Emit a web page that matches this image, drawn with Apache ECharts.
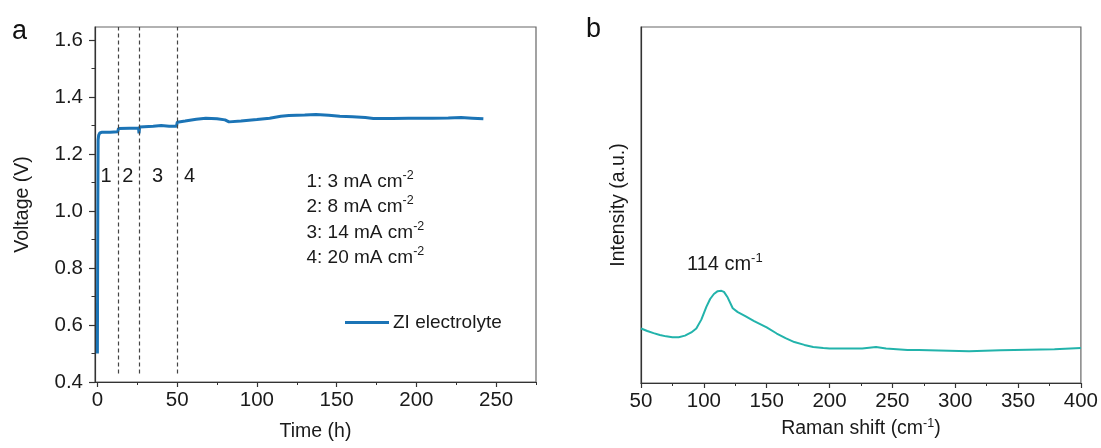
<!DOCTYPE html>
<html>
<head>
<meta charset="utf-8">
<script src="https://cdn.jsdelivr.net/npm/echarts@6/dist/echarts.min.js"></script>
<style>html,body{margin:0;padding:0;background:#fff}#c{width:1101px;height:448px}</style>
</head>
<body>
<div id="c"></div>
<script>
// ---------- Panel a data ----------
const timeH = [0,0.25,0.45,0.8,1.5,3,8,12.8,13.2,20,25.8,26.1,26.5,35,40,45,49.6,50.1,55,62,68,75,80,82.5,83.5,90,100,108,115,120,130,137,145,152,160,168,173,185,195,210,220,228,235,242];
const voltage = [0.50,1.00,1.25,1.266,1.274,1.277,1.277,1.278,1.290,1.291,1.291,1.273,1.295,1.298,1.300,1.298,1.298,1.312,1.316,1.322,1.326,1.324,1.320,1.313,1.317,1.316,1.321,1.326,1.333,1.335,1.337,1.339,1.336,1.333,1.331,1.328,1.325,1.325,1.326,1.326,1.327,1.328,1.326,1.324];
const stageBoundaries = [13.2, 26, 50];
const stageLabels = ['1', '2', '3', '4'];
const currentLabels = ['1: 3 mA cm', '2: 8 mA cm', '3: 14 mA cm', '4: 20 mA cm'];
const currentSup = '-2';
const seriesNameA = 'ZI electrolyte';
const xTicksA = [0, 50, 100, 150, 200, 250];
const xMinorA = [25, 75, 125, 175, 225, 275];
const yTicksA = [0.4, 0.6, 0.8, 1.0, 1.2, 1.4, 1.6];
const yMinorA = [0.5, 0.7, 0.9, 1.1, 1.3, 1.5];

// ---------- Panel b data ----------
const ramanShift = [50,55,60,65,70,75,80,85,90,94,98,102,105,108,111,114,116,119,123,127,133,140,150,158,165,172,180,187,195,200,210,226,227,237,238,245,246,262,263,264,271,272,311,312,336,337,379,380,400];
const intensity = [15.3,14.6,14.0,13.5,13.1,12.85,12.85,13.3,14.2,15.3,17.8,21.4,23.6,25.0,25.8,25.9,25.6,24.0,21.0,19.9,18.8,17.4,15.6,13.9,12.6,11.5,10.7,10.1,9.8,9.7,9.7,9.7,10.1,10.1,9.7,9.7,9.3,9.3,8.9,9.3,9.3,8.9,8.9,9.2,9.2,9.5,9.5,9.8,9.8];
const xTicksB = [50, 100, 150, 200, 250, 300, 350, 400];
const xMinorB = [75, 125, 175, 225, 275, 325, 375];
const peakLabel = '114 cm';
const peakSup = '-1';

const FONT = 'Liberation Sans, Arial, sans-serif';
const FS_TICK = 20.5;
const FS_TITLE = 19.5;
const FS_ANN = 19;
const AXC = '#333';
const TXT = '#1a1a1a';
const BLUE = '#1b74b6';
const TEAL = '#22b3ab';

const chart = echarts.init(document.getElementById('c'), null, {renderer: 'canvas'});

const gA = {left: 95, top: 27, width: 441, height: 355};
const gB = {left: 641, top: 27, width: 441, height: 356};

function majorAxisX(gi, min, max, ticks, name, nameGap, extra) {
  return Object.assign({
    type: 'value', gridIndex: gi, min: min, max: max, position: 'bottom',
    axisLine: {show: true, onZero: false, lineStyle: {color: AXC, width: 1.2}},
    axisTick: {show: true, inside: false, length: 5, customValues: ticks, lineStyle: {color: AXC, width: 1.2}},
    axisLabel: {show: true, customValues: ticks, margin: 8, color: TXT, fontFamily: FONT, fontSize: FS_TICK},
    splitLine: {show: false},
    name: name, nameLocation: 'middle', nameGap: nameGap,
    nameTextStyle: {color: TXT, fontFamily: FONT, fontSize: FS_TITLE}
  }, extra || {});
}
function minorAxisX(gi, min, max, ticks) {
  return {
    type: 'value', gridIndex: gi, min: min, max: max, position: 'bottom',
    axisLine: {show: false, onZero: false},
    axisTick: {show: true, inside: false, length: 3, customValues: ticks, lineStyle: {color: AXC, width: 1}},
    axisLabel: {show: false}, splitLine: {show: false}
  };
}

const xAxes = [
  majorAxisX(0, -1.5, 275, xTicksA, 'Time (h)', 40),
  minorAxisX(0, -1.5, 275, xMinorA),
  majorAxisX(1, 50, 400, xTicksB, '{a|Raman shift (cm}{s|-1}{a|)}', 34, {
    nameTextStyle: {color: TXT, fontFamily: FONT, fontSize: FS_TITLE, rich: {
      a: {color: TXT, fontFamily: FONT, fontSize: FS_TITLE, lineHeight: 22, verticalAlign: 'bottom'},
      s: {color: TXT, fontFamily: FONT, fontSize: 12.5, lineHeight: 22, verticalAlign: 'top'}
    }}
  }),
  minorAxisX(1, 50, 400, xMinorB)
];

const yAxes = [
  {
    type: 'value', gridIndex: 0, min: 0.4, max: 1.646, position: 'left',
    axisLine: {show: true, onZero: false, lineStyle: {color: AXC, width: 1.2}},
    axisTick: {show: true, inside: false, length: 6, customValues: yTicksA, lineStyle: {color: AXC, width: 1.2}},
    axisLabel: {show: true, customValues: yTicksA, margin: 12, color: TXT, fontFamily: FONT, fontSize: FS_TICK,
      formatter: v => v.toFixed(1)},
    splitLine: {show: false},
    name: 'Voltage (V)', nameLocation: 'middle', nameGap: 62,
    nameTextStyle: {color: TXT, fontFamily: FONT, fontSize: FS_TITLE}
  },
  {
    type: 'value', gridIndex: 0, min: 0.4, max: 1.646, position: 'left',
    axisLine: {show: false, onZero: false},
    axisTick: {show: true, inside: false, length: 3.5, customValues: yMinorA, lineStyle: {color: AXC, width: 1}},
    axisLabel: {show: false}, splitLine: {show: false}
  },
  {
    type: 'value', gridIndex: 1, min: 0, max: 100, position: 'left',
    axisLine: {show: true, onZero: false, lineStyle: {color: AXC, width: 1.2}},
    axisTick: {show: false}, axisLabel: {show: false}, splitLine: {show: false},
    name: 'Intensity (a.u.)', nameLocation: 'middle', nameGap: 12,
    nameTextStyle: {color: TXT, fontFamily: FONT, fontSize: FS_TITLE}
  }
];

const seriesA = timeH.map((t, i) => [t, voltage[i]]);
const seriesB = ramanShift.map((x, i) => [x, intensity[i]]);

const markLines = stageBoundaries.map(x => [{coord: [x, 0.43]}, {coord: [x, 1.646]}]);

function px(gi, xv, yv) {
  return chart.convertToPixel({gridIndex: gi}, [xv, yv]);
}

const option = {
  animation: false,
  backgroundColor: '#fff',
  grid: [
    Object.assign({show: true, borderColor: '#666', borderWidth: 1.2, backgroundColor: 'transparent'}, gA),
    Object.assign({show: true, borderColor: '#666', borderWidth: 1.2, backgroundColor: 'transparent'}, gB)
  ],
  xAxis: xAxes,
  yAxis: yAxes,
  legend: {
    data: [seriesNameA], left: 345, top: 313, padding: 0,
    icon: 'rect', itemWidth: 44, itemHeight: 3, itemGap: 4,
    textStyle: {color: TXT, fontFamily: FONT, fontSize: FS_ANN, padding: [0,0,0,-1]}
  },
  series: [
    {
      name: seriesNameA, type: 'line', xAxisIndex: 0, yAxisIndex: 0, data: seriesA,
      showSymbol: false, symbol: 'none', lineStyle: {color: BLUE, width: 3}, itemStyle: {color: BLUE},
      markLine: {
        silent: true, symbol: ['none', 'none'], label: {show: false},
        lineStyle: {color: '#444', width: 1.2, type: [4, 3]},
        data: markLines
      },
      z: 3
    },
    {
      name: 'Raman', type: 'line', xAxisIndex: 2, yAxisIndex: 2, data: seriesB,
      showSymbol: false, symbol: 'none', lineStyle: {color: TEAL, width: 2}, itemStyle: {color: TEAL}
    }
  ]
};
chart.setOption(option);

// annotations (positioned via data coordinates)
const graphics = [];
const stageX = [5.5, 19.1, 37.8, 57.8];
stageLabels.forEach((s, i) => {
  const p = px(0, stageX[i], 1.18);
  graphics.push({type: 'text', x: p[0], y: 176, style: {text: s, fill: TXT, font: '20px ' + FONT, align: 'center', verticalAlign: 'middle'}});
});
const rich = {
  a: {fill: TXT, font: FS_ANN + 'px ' + FONT, lineHeight: 22, verticalAlign: 'bottom'},
  s: {fill: TXT, font: '12.5px ' + FONT, lineHeight: 22, verticalAlign: 'top'}
};
const richPk = {
  a: {fill: TXT, font: '20px ' + FONT, lineHeight: 23, verticalAlign: 'bottom'},
  s: {fill: TXT, font: '13px ' + FONT, lineHeight: 23, verticalAlign: 'top'}
};
const curY = [180, 205.5, 231, 256.5];
currentLabels.forEach((s, i) => {
  graphics.push({type: 'text', x: 306.5, y: curY[i], style: {
    text: '{a|' + s + '}{s|' + currentSup + '}', rich: rich, verticalAlign: 'middle', align: 'left'}});
});
graphics.push({type: 'text', x: 687, y: 263, style: {
  text: '{a|' + peakLabel + '}{s|' + peakSup + '}', rich: richPk, verticalAlign: 'middle', align: 'left'}});
graphics.push({type: 'text', x: 19.5, y: 32, style: {text: 'a', fill: '#111', font: '27px ' + FONT, align: 'center', verticalAlign: 'middle'}});
graphics.push({type: 'text', x: 593.5, y: 30, style: {text: 'b', fill: '#111', font: '27px ' + FONT, align: 'center', verticalAlign: 'middle'}});
chart.setOption({graphic: graphics});
</script>
</body>
</html>
